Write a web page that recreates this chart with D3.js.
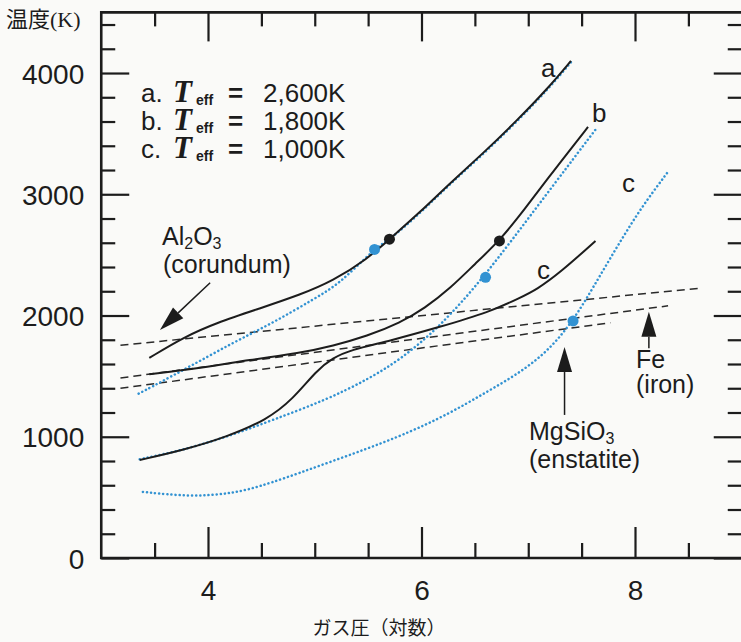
<!DOCTYPE html>
<html>
<head>
<meta charset="utf-8">
<script src="https://cdn.jsdelivr.net/npm/d3@7"></script>
<style>
  body { margin: 0; background: #fafaf8; }
  svg { display: block; }
</style>
</head>
<body>
<div class="chart"></div>
<script>
// log gas pressure (x) vs temperature K (y)
var xMajor = [4, 6, 8];
var xMinor = [3.5, 4.5, 5, 5.5, 6.5, 7, 7.5, 8.5];
var yMajor = [0, 1000, 2000, 3000, 4000];
var yMinor = [200, 400, 600, 800, 1200, 1400, 1600, 1800, 2200, 2400, 2600, 2800,
              3200, 3400, 3600, 3800, 4200, 4400];

// solid model profiles
var solidA = [[3.45,1650],[3.77,1820],[4.08,1940],[4.49,2060],[4.86,2170],[5.17,2285],[5.49,2465],
              [5.70,2630],[5.99,2855],[6.27,3095],[6.58,3340],[6.89,3605],[7.18,3870],[7.40,4100]];
var solidB = [[3.45,1515],[3.93,1565],[4.39,1635],[4.86,1690],[5.17,1750],[5.49,1830],[5.80,1940],
              [6.03,2060],[6.27,2225],[6.50,2425],[6.73,2615],[6.97,2880],[7.20,3150],[7.39,3365],[7.56,3555]];
var solidC = [[3.36,808],[3.77,890],[4.18,1000],[4.55,1140],[4.79,1305],[5.02,1550],[5.17,1650],
              [5.33,1715],[5.70,1790],[6.17,1905],[6.64,2030],[6.92,2145],[7.08,2215],[7.30,2355],[7.63,2615]];

// dotted (blue) profiles
var dotA = [[3.35,1355],[3.77,1550],[4.23,1775],[4.61,1940],[4.98,2130],[5.24,2265],[5.56,2555],
            [5.71,2630],[6.00,2855],[6.28,3095],[6.59,3340],[6.90,3605],[7.19,3870],[7.41,4100]];
var dotB = [[3.36,815],[3.77,890],[4.23,1015],[4.61,1140],[5.11,1305],[5.49,1470],[5.80,1635],
            [6.17,1905],[6.59,2320],[7.11,2930],[7.64,3545]];
var dotC = [[3.39,545],[3.83,505],[4.23,530],[4.55,605],[5.17,800],[5.80,1000],[6.27,1195],[6.58,1355],
            [6.89,1510],[7.18,1700],[7.42,1955],[7.61,2235],[7.83,2565],[8.05,2880],[8.30,3175]];

// condensation curves (dashed)
var condAl2O3 = [[3.18,1755],[8.61,2225]];
var condFe = [[3.18,1485],[8.31,2080]];
var condMgSiO3 = [[3.18,1400],[7.77,1940]];

var blueDots = [[5.56,2545],[6.60,2315],[7.42,1955]];
var blackDots = [[5.70,2630],[6.73,2615]];

// annotation arrows: [tail, tip]
var arrowAl2O3 = [[4.02,2270],[3.55,1880]];
var arrowMgSiO3 = [[7.34,1180],[7.34,1740]];
var arrowFe = [[8.13,1730],[8.13,2030]];

var legendKeys = ["a.", "b.", "c."];
var legendTeff = ["2,600K", "1,800K", "1,000K"];

var svgWidth = 741;
var svgHeight = 642;
var sans = "'Liberation Sans', Arial, sans-serif";
var blue = "#3292d2";
var ink = "#1c1c1c";

var x = d3.scaleLinear().domain([3, 9]).range([101.25, 741.75]);
var y = d3.scaleLinear().domain([0, 4500]).range([558, 12.4]);

var svg = d3.select(".chart").append("svg")
  .attr("width", svgWidth)
  .attr("height", svgHeight);

svg.append("rect").attr("width", svgWidth).attr("height", svgHeight).attr("fill", "#fafaf8");

// axes: ticks point inward
function addAxis(axis, transform) {
  var g = svg.append("g").attr("transform", transform).call(axis);
  g.select(".domain").remove();
  g.selectAll(".tick line").attr("stroke", ink).attr("stroke-width", 2.2);
  g.selectAll("text").attr("font-family", sans).attr("font-size", 28).attr("fill", ink);
  return g;
}

var bottomMajor = addAxis(d3.axisBottom(x).tickValues(xMajor).tickSize(-31).tickFormat(d3.format("d")),
  "translate(0,558)");
bottomMajor.selectAll("text").attr("y", 42).attr("dy", 0);
addAxis(d3.axisBottom(x).tickValues(xMinor).tickSize(-15).tickFormat(""), "translate(0,558)");
addAxis(d3.axisTop(x).tickValues(xMajor).tickSize(-29).tickFormat(""), "translate(0,12.4)");
addAxis(d3.axisTop(x).tickValues(xMinor).tickSize(-14).tickFormat(""), "translate(0,12.4)");

var leftMajor = addAxis(d3.axisLeft(y).tickValues(yMajor).tickSize(-28).tickFormat(d3.format("d")),
  "translate(101.25,0)");
leftMajor.selectAll("text").attr("x", -17).attr("dy", "0.36em");
addAxis(d3.axisLeft(y).tickValues(yMinor).tickSize(-14).tickFormat(""), "translate(101.25,0)");
addAxis(d3.axisRight(y).tickValues(yMajor).tickSize(-28).tickFormat(""), "translate(741.75,0)");
addAxis(d3.axisRight(y).tickValues(yMinor).tickSize(-14).tickFormat(""), "translate(741.75,0)");

// frame (right side is off the page)
svg.append("path")
  .attr("d", "M" + x(9) + "," + y(4500) + "H" + x(3) + "V" + y(0) + "H" + x(9))
  .attr("fill", "none").attr("stroke", ink).attr("stroke-width", 2.6);

var line = d3.line()
  .x(d => x(d[0]))
  .y(d => y(d[1]))
  .curve(d3.curveBasis);

// condensation curves
[condAl2O3, condFe, condMgSiO3].forEach(function(c) {
  svg.append("path").datum(c).attr("d", line)
    .attr("fill", "none").attr("stroke", "#2a2a2a")
    .attr("stroke-width", 1.5).attr("stroke-dasharray", "8,5");
});

// dotted blue profiles
[dotA, dotB, dotC].forEach(function(c) {
  svg.append("path").datum(c).attr("d", line)
    .attr("fill", "none").attr("stroke", blue)
    .attr("stroke-width", 2.5).attr("stroke-linecap", "round")
    .attr("stroke-dasharray", "0.1,4");
});

// solid profiles
[solidA, solidB, solidC].forEach(function(c) {
  svg.append("path").datum(c).attr("d", line)
    .attr("fill", "none").attr("stroke", ink).attr("stroke-width", 2);
});

svg.selectAll(".bdot").data(blueDots).enter().append("circle")
  .attr("cx", d => x(d[0])).attr("cy", d => y(d[1])).attr("r", 5.5).attr("fill", blue);
svg.selectAll(".kdot").data(blackDots).enter().append("circle")
  .attr("cx", d => x(d[0])).attr("cy", d => y(d[1])).attr("r", 5.5).attr("fill", ink);

// arrows
function drawArrow(a) {
  var x0 = x(a[0][0]), y0 = y(a[0][1]), x1 = x(a[1][0]), y1 = y(a[1][1]);
  var len = Math.sqrt((x1 - x0) * (x1 - x0) + (y1 - y0) * (y1 - y0));
  var ux = (x1 - x0) / len, uy = (y1 - y0) / len;
  var hl = 25, hw = 7.5;
  var bx = x1 - ux * hl, by = y1 - uy * hl;
  svg.append("line").attr("x1", x0).attr("y1", y0).attr("x2", bx).attr("y2", by)
    .attr("stroke", ink).attr("stroke-width", 1.5);
  svg.append("path")
    .attr("d", "M" + x1 + "," + y1 + "L" + (bx - uy * hw) + "," + (by + ux * hw) +
               "L" + (bx + uy * hw) + "," + (by - ux * hw) + "Z")
    .attr("fill", ink);
}
[arrowAl2O3, arrowMgSiO3, arrowFe].forEach(drawArrow);

// text helpers
function label(px, py, str, size) {
  return svg.append("text").attr("x", px).attr("y", py)
    .attr("font-family", sans).attr("font-size", size || 25).attr("fill", ink).text(str);
}

// Al2O3
var t1 = svg.append("text").attr("x", 162).attr("y", 245)
  .attr("font-family", sans).attr("font-size", 25).attr("fill", ink);
t1.append("tspan").text("Al");
t1.append("tspan").attr("dy", 4).attr("font-size", 16).text("2");
t1.append("tspan").attr("dy", -4).text("O");
t1.append("tspan").attr("dy", 4).attr("font-size", 16).text("3");
label(163, 273, "(corundum)");

// MgSiO3
var t2 = svg.append("text").attr("x", 529).attr("y", 440)
  .attr("font-family", sans).attr("font-size", 25).attr("fill", ink);
t2.append("tspan").text("MgSiO");
t2.append("tspan").attr("dy", 4).attr("font-size", 16).text("3");
label(529, 468, "(enstatite)");

// Fe
label(636, 368, "Fe");
label(636, 393, "(iron)");

// curve letters
label(541, 77, "a", 26);
label(592, 122, "b", 26);
label(622, 192, "c", 26);
label(537, 279, "c", 26);

// legend
legendKeys.forEach(function(k, i) {
  var by = 102 + i * 28;
  label(141, by, k, 26);
  svg.append("text").attr("x", 173).attr("y", by)
    .attr("font-family", "'Liberation Serif', 'Times New Roman', serif")
    .attr("font-style", "italic").attr("font-weight", "bold")
    .attr("font-size", 31).attr("fill", ink).text("T");
  svg.append("text").attr("x", 196).attr("y", by + 3)
    .attr("font-family", sans).attr("font-weight", "bold")
    .attr("font-size", 14).attr("fill", ink).text("eff");
  label(228, by, "=", 26).attr("font-weight", "bold");
  label(263, by, legendTeff[i], 26);
});

// axis titles
var yt = svg.append("text").attr("x", 6).attr("y", 27).attr("font-size", 22).attr("fill", ink);
yt.append("tspan").attr("font-family", "'Noto Sans CJK JP', sans-serif").text("温度");
yt.append("tspan").attr("font-family", "'Liberation Serif', serif").text("(K)");

svg.append("text").attr("x", 379).attr("y", 635).attr("text-anchor", "middle")
  .attr("font-family", "'Noto Sans CJK JP', sans-serif").attr("font-size", 19)
  .attr("fill", ink).text("ガス圧（対数）");
</script>
</body>
</html>
